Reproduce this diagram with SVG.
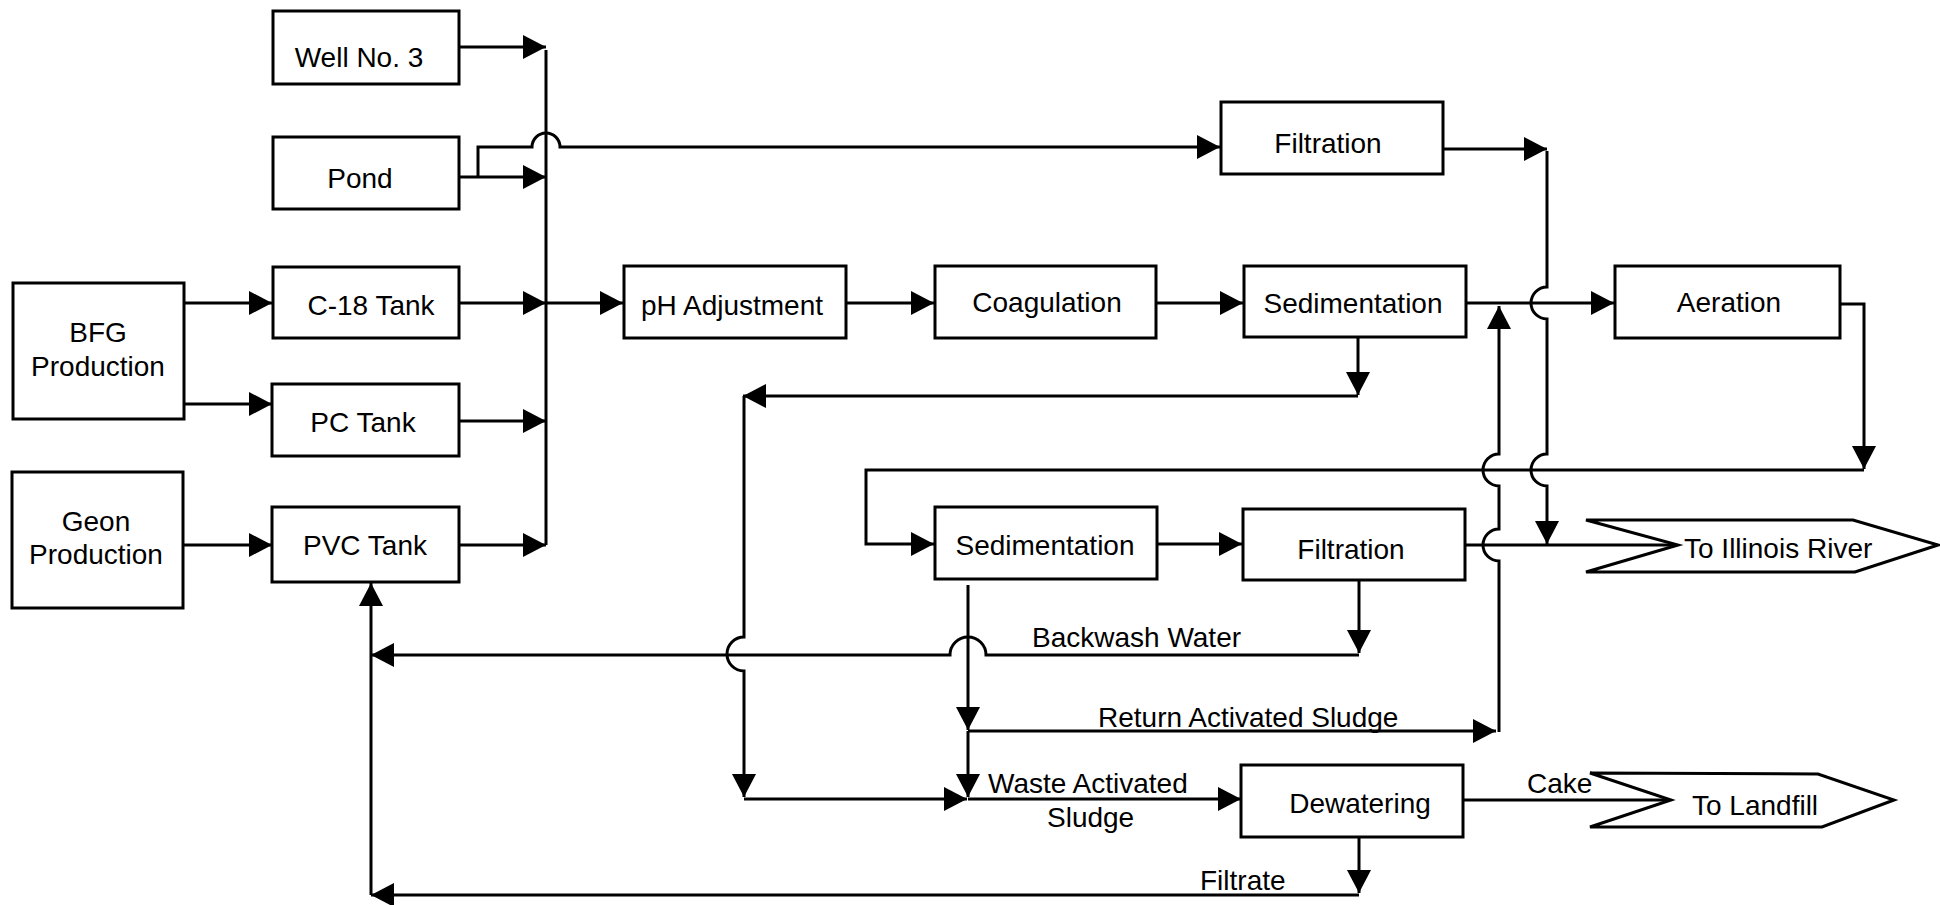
<svg xmlns="http://www.w3.org/2000/svg" width="1940" height="905" viewBox="0 0 1940 905">
<style>
.box{fill:#fff;stroke:#000;stroke-width:3}
.ln{fill:none;stroke:#000;stroke-width:3}
.arr{marker-end:url(#ah)}
.arrs{marker-start:url(#ahs)}
text{font-family:"Liberation Sans",Arial,sans-serif;font-size:28px;fill:#000}
.c{text-anchor:middle}
</style>
<defs>
<marker id="ah" markerUnits="userSpaceOnUse" markerWidth="24" markerHeight="24" refX="23" refY="12" orient="auto" viewBox="0 0 24 24"><path d="M0,0 L23,12 L0,24 z" fill="#000"/></marker>
<marker id="ahs" markerUnits="userSpaceOnUse" markerWidth="24" markerHeight="24" refX="23" refY="12" orient="auto-start-reverse" viewBox="0 0 24 24"><path d="M0,0 L23,12 L0,24 z" fill="#000"/></marker>
</defs>
<rect width="1940" height="905" fill="#fff"/>
<g id="connectors">
<path class="ln arr" d="M459,47 H546"/>
<path class="ln arr" d="M459,177 H546"/>
<path class="ln arr" d="M478,177 V147 H532 A14,14 0 0 1 560,147 H1220"/>
<path class="ln arr" d="M459,303 H546"/>
<path class="ln arr" d="M459,421 H546"/>
<path class="ln arr" d="M459,545 H546"/>
<path class="ln" d="M546,50 V545"/>
<path class="ln arr" d="M546,303 H623"/>
<path class="ln arr" d="M184,303 H272"/>
<path class="ln arr" d="M184,404 H272"/>
<path class="ln arr" d="M183,545 H272"/>
<path class="ln arr" d="M846,303 H934"/>
<path class="ln arr" d="M1156,303 H1243"/>
<path class="ln arr" d="M1466,303 H1614"/>
<path class="ln arr" d="M1443,149 H1547"/>
<path class="ln arr" d="M1547,151 V287 A16,16 0 0 0 1547,319 V454 A16,16 0 0 0 1547,486 V544"/>
<path class="ln arr" d="M1840,304 H1864 V469"/>
<path class="ln arr" d="M1864,470 H866 V544 H934"/>
<path class="ln arr" d="M1358,338 V395"/>
<path class="ln arr" d="M1358,396 H743"/>
<path class="ln arr" d="M744,396 V637 A17,17 0 0 0 744,671 V797"/>
<path class="ln arr" d="M744,799 H967"/>
<path class="ln arr" d="M1157,544 H1242"/>
<path class="ln" d="M1465,545 H1678"/>
<path class="ln arrs" d="M1499,306 V454 A16,16 0 0 0 1499,486 V529 A16,16 0 0 0 1499,561 V732"/>
<path class="ln arr" d="M968,731 H1496"/>
<path class="ln arr" d="M968,585 V730"/>
<path class="ln arr" d="M968,731 V797"/>
<path class="ln arr" d="M968,799 H1241"/>
<path class="ln arr" d="M1359,580 V653"/>
<path class="ln arr" d="M1359,655 H986 A18,18 0 0 0 950,655 H371"/>
<path class="ln arr" d="M1359,837 V893"/>
<path class="ln arr" d="M1359,895 H371"/>
<path class="ln arr" d="M371,895 V583"/>
<path class="ln" d="M1463,800 H1671"/>
</g>
<g id="well"><rect class="box" x="273" y="11" width="186" height="73"/><text class="c" x="359" y="67">Well No. 3</text></g>
<g id="pond"><rect class="box" x="273" y="137" width="186" height="72"/><text class="c" x="360" y="188">Pond</text></g>
<g id="c18"><rect class="box" x="273" y="267" width="186" height="71"/><text class="c" x="371" y="315">C-18 Tank</text></g>
<g id="pc"><rect class="box" x="272" y="384" width="187" height="72"/><text class="c" x="363" y="432">PC Tank</text></g>
<g id="pvc"><rect class="box" x="272" y="507" width="187" height="75"/><text class="c" x="365" y="555">PVC Tank</text></g>
<g id="bfg"><rect class="box" x="13" y="283" width="171" height="136"/><text class="c" x="98" y="342">BFG</text><text class="c" x="98" y="376">Production</text></g>
<g id="geon"><rect class="box" x="12" y="472" width="171" height="136"/><text class="c" x="96" y="531">Geon</text><text class="c" x="96" y="564">Production</text></g>
<g id="ph"><rect class="box" x="624" y="266" width="222" height="72"/><text class="c" x="732" y="315">pH Adjustment</text></g>
<g id="coag"><rect class="box" x="935" y="266" width="221" height="72"/><text class="c" x="1047" y="312">Coagulation</text></g>
<g id="sed1"><rect class="box" x="1244" y="266" width="222" height="71"/><text class="c" x="1353" y="313">Sedimentation</text></g>
<g id="filt1"><rect class="box" x="1221" y="102" width="222" height="72"/><text class="c" x="1328" y="153">Filtration</text></g>
<g id="aeration"><rect class="box" x="1615" y="266" width="225" height="72"/><text class="c" x="1729" y="312">Aeration</text></g>
<g id="sed2"><rect class="box" x="935" y="507" width="222" height="72"/><text class="c" x="1045" y="555">Sedimentation</text></g>
<g id="filt2"><rect class="box" x="1243" y="509" width="222" height="71"/><text class="c" x="1351" y="559">Filtration</text></g>
<g id="dewatering"><rect class="box" x="1241" y="765" width="222" height="72"/><text class="c" x="1360" y="813">Dewatering</text></g>
<g id="illinois"><polygon class="box" points="1586,520 1853,520 1938,545 1855,572 1586,572 1678,545"/><text x="1684" y="558">To Illinois River</text></g>
<g id="landfill"><polygon class="box" points="1590,773 1818,774 1894,800 1822,827 1590,827 1671,800"/><text x="1692" y="815">To Landfill</text></g>
<g id="labels">
<text x="1527" y="793">Cake</text>
<text x="1032" y="647">Backwash Water</text>
<text x="1098" y="727">Return Activated Sludge</text>
<text x="988" y="793">Waste Activated</text>
<text x="1047" y="827">Sludge</text>
<text x="1200" y="890">Filtrate</text>
</g>
</svg>
